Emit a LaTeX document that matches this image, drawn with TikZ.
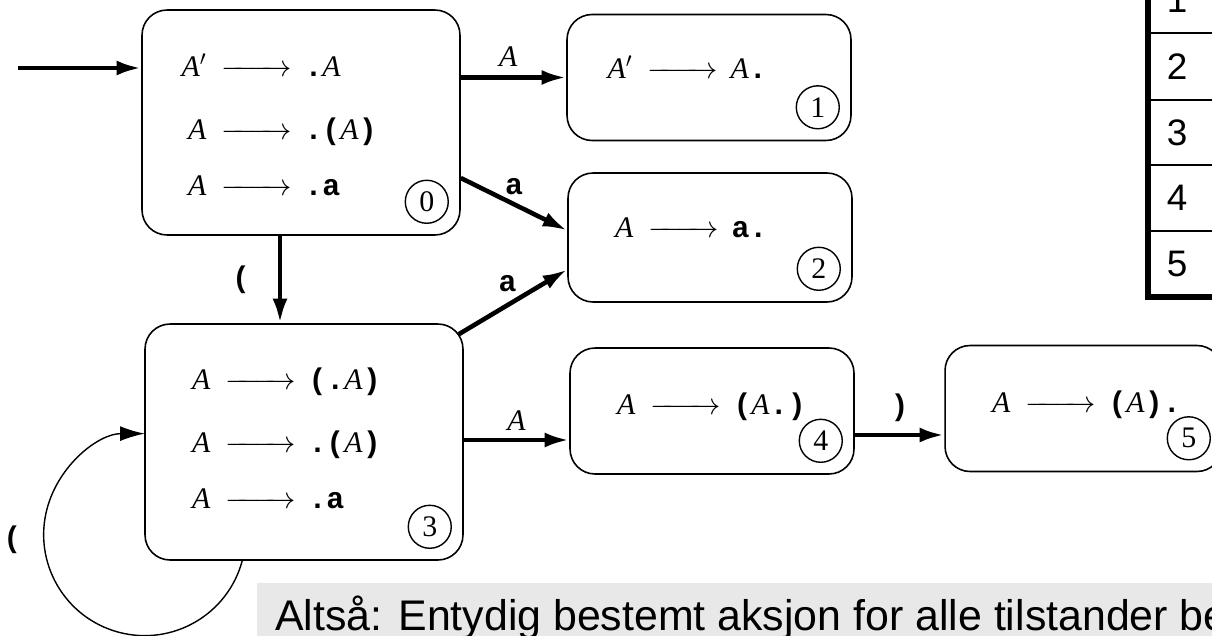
\documentclass[tikz,border=0pt]{standalone}
\usepackage{amsmath}
\usepackage{fontspec}
\usepackage{tikz}
\usetikzlibrary{positioning,arrows.meta}
\setmainfont{Liberation Serif}
\newfontfamily\tyb{Liberation Mono}
\newfontfamily\notefont{Liberation Sans}
\definecolor{NoteGray}{RGB}{232,232,232}
\newcommand{\tk}[1]{{\tyb\bfseries #1}}
\newcommand{\itm}[2]{\makebox[0.6cm][r]{\textit{#1}}\hspace{0.3cm}\makebox[1.4cm]{\rightarrowfill}\hspace{0.26cm}#2}

\begin{document}
\begin{tikzpicture}[
x=0.02cm, y=-0.02cm,
font=\fontsize{17}{20}\selectfont,
state/.style={draw, line width=0.9pt, rounded corners=0.5cm, minimum width=5.68cm, minimum height=2.52cm, inner sep=0pt},
bigstate/.style={state, minimum width=6.36cm},
items/.style={anchor=base west, inner sep=0pt},
num/.style={draw, circle, line width=0.8pt, minimum size=0.86cm, inner sep=0pt},
arr/.style={-{Latex[length=14pt,width=8.5pt]}, line width=2.6pt},
looparr/.style={-{Latex[length=14pt,width=8.5pt]}, line width=0.8pt},
lbl/.style={inner sep=1pt},
cell/.style={font=\notefont\fontsize{21}{25}\selectfont, inner sep=0pt},
note/.style={anchor=base west, fill=NoteGray, inner xsep=0.36cm, inner ysep=0.19cm, text height=0.75cm, font=\notefont\fontsize{24.4}{29}\selectfont}
]
\useasboundingbox (0,0) rectangle (1212,635);

\node[bigstate, minimum height=4.5cm] (s0) at (301,122.5) {};
\node[state] (s1) at (709,77.5) {};
\node[state, minimum height=2.58cm] (s2) at (710,237.5) {};
\node[bigstate, minimum height=4.72cm] (s3) at (304,442) {};
\node[state] (s4) at (712,411) {};
\node[state, minimum width=5.54cm] (s5) at (1083.5,408.5) {};

\node[items] (r0) at ([shift={(0.7cm,-1.34cm)}]s0.north west) {\begin{tabular}[t]{@{}l@{}}\itm{A$'$}{\tk{.}\textit{A}}\\[16pt] \itm{A}{\tk{.(}\textit{A}\tk{)}}\\[12pt] \itm{A}{\tk{.a}}\end{tabular}};
\node[items] (r1) at ([shift={(0.72cm,-1.3cm)}]s1.north west) {\itm{A$'$}{\textit{A}\tk{.}}};
\node[items] (r2) at ([shift={(0.72cm,-1.3cm)}]s2.north west) {\itm{A}{\tk{a.}}};
\node[items] (r3) at ([shift={(0.72cm,-1.32cm)}]s3.north west) {\begin{tabular}[t]{@{}l@{}}\itm{A}{\tk{(.}\textit{A}\tk{)}}\\[16pt] \itm{A}{\tk{.(}\textit{A}\tk{)}}\\[12pt] \itm{A}{\tk{.a}}\end{tabular}};
\node[items] (r4) at ([shift={(0.72cm,-1.34cm)}]s4.north west) {\itm{A}{\tk{(}\textit{A}\tk{.)}}};
\node[items] (r5) at ([shift={(0.72cm,-1.36cm)}]s5.north west) {\itm{A}{\tk{(}\textit{A}\tk{).}}};

\foreach \s/\n in {s0/0,s1/1,s2/2,s3/3,s4/4,s5/5}
  \node[num] (n\n) at ([shift={(-0.68cm,0.68cm)}]\s.south east) {\n};

\coordinate (start) at (18,68);
\coordinate (in4) at ([yshift=-0.58cm]s4.west);
\coordinate (in5) at ([yshift=-0.53cm]s5.west);

\draw[arr] (start) -- (start -| s0.west);
\draw[arr] (s0.east |- s1.west) -- (s1.west) node[lbl, pos=0.45, above=4pt] {\textit{A}};
\draw[arr] ([yshift=-1.11cm]s0.east) -- ([yshift=0.14cm]s2.west) node[lbl, pos=0.5, above=3pt] {\tk{a}};
\draw[arr] ([shift={(-0.1cm,-0.22cm)}]s3.north east) -- ([yshift=-0.64cm]s2.west) node[lbl, pos=0.45, above=5pt] {\tk{a}};
\draw[arr] ([xshift=-0.42cm]s0.south) -- ([xshift=-0.42cm]s0.south |- s3.north) node[lbl, midway, left=0.52cm] {\tk{(}};
\draw[arr] (s3.east |- in4) -- (in4) node[lbl, midway, above=3pt] {\textit{A}};
\draw[arr] (s4.east |- in5) -- (in5) node[lbl, midway, above=5pt] {\tk{)}};
\draw[looparr] ([xshift=1.96cm]s3.south west) arc[start angle=15, end angle=270, radius=101];
\node[lbl] (lp) at ([shift={(-2.64cm,-1.96cm)}]s3.west) {\tk{(}};

\foreach \i/\y in {1/0,2/66.5,3/132.5,4/198,5/264}
  \node[cell] (c\i) at (1177,\y) {\i};
\foreach \y in {33,100,165,231}
  \draw[line width=1.1pt] (1145,\y) -- (1212,\y);
\draw[line width=3pt] (1148,0) -- (1148,297) -- (1212,297);

\node[note] (note) at (257,630) {Altså: Entydig bestemt aksjon for alle tilstander be};
\end{tikzpicture}
\end{document}
